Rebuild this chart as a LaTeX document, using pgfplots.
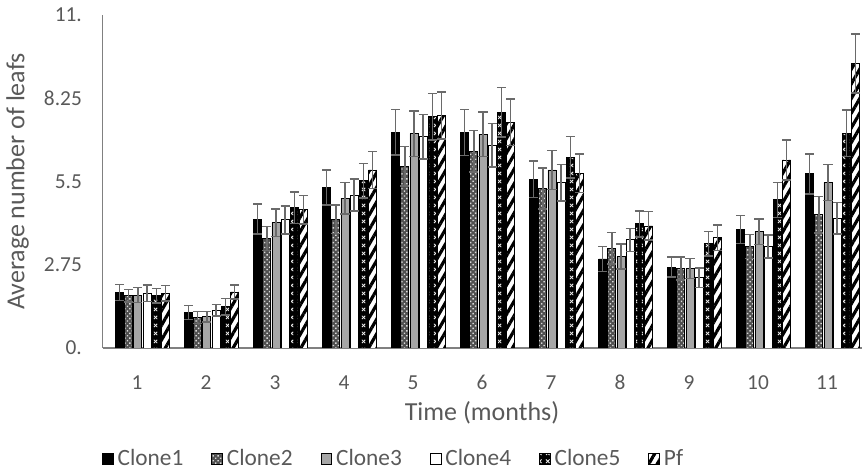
\documentclass[border=0pt]{standalone}
\usepackage{fontspec}
\setmainfont{Carlito}
\usepackage{pgfplots}
\pgfplotsset{compat=1.18}
\usepackage{pgfplotstable}
\usetikzlibrary{patterns,patterns.meta}

\definecolor{txtgray}{HTML}{595959}
\definecolor{axgray}{HTML}{808080}
\definecolor{errgray}{HTML}{6A6A6A}
\definecolor{midgray}{HTML}{A6A6A6}
\definecolor{dotgray}{HTML}{505050}

% white crosses for Clone5
\tikzdeclarepattern{
  name=xmarks, type=uncolored,
  bounding box={(0pt,0pt) and (6pt,6pt)},
  tile size={(6pt,6pt)},
  code={\draw[line width=0.7pt] (1.6pt,1.6pt)--(4.4pt,4.4pt) (1.6pt,4.4pt)--(4.4pt,1.6pt);}
}

% mean leaf count (y) and error (e) per month
\pgfplotstableread{
x y e
1 1.83 0.26
2 1.17 0.23
3 4.26 0.50
4 5.30 0.58
5 7.12 0.75
6 7.12 0.76
7 5.57 0.60
8 2.94 0.42
9 2.67 0.33
10 3.92 0.46
11 5.75 0.66
}\cloneA
\pgfplotstableread{
x y e
1 1.73 0.21
2 1.01 0.20
3 3.62 0.40
4 4.25 0.47
5 6.00 0.65
6 6.50 0.68
7 5.27 0.68
8 3.30 0.52
9 2.63 0.38
10 3.35 0.40
11 4.40 0.60
}\cloneB
\pgfplotstableread{
x y e
1 1.75 0.24
2 1.03 0.17
3 4.14 0.45
4 4.95 0.52
5 7.08 0.75
6 7.06 0.74
7 5.88 0.64
8 3.02 0.41
9 2.63 0.33
10 3.84 0.42
11 5.47 0.60
}\cloneC
\pgfplotstableread{
x y e
1 1.81 0.27
2 1.25 0.19
3 4.23 0.46
4 5.05 0.53
5 6.98 0.74
6 6.70 0.72
7 5.46 0.60
8 3.57 0.38
9 2.32 0.33
10 3.35 0.38
11 4.28 0.52
}\cloneD
\pgfplotstableread{
x y e
1 1.72 0.24
2 1.36 0.27
3 4.64 0.52
4 5.53 0.57
5 7.64 0.77
6 7.79 0.82
7 6.30 0.68
8 4.10 0.43
9 3.44 0.40
10 4.89 0.58
11 7.09 0.77
}\cloneE
\pgfplotstableread{
x y e
1 1.81 0.25
2 1.85 0.23
3 4.56 0.47
4 5.88 0.61
5 7.68 0.78
6 7.46 0.77
7 5.77 0.64
8 4.03 0.47
9 3.64 0.42
10 6.21 0.66
11 9.40 0.97
}\pf

\begin{document}
\begin{tikzpicture}
\useasboundingbox (-76.9pt,-93.75pt) rectangle (571.1pt,261pt);
\begin{axis}[
  at={(0pt,0pt)}, anchor=south west,
  scale only axis, width=569.25pt, height=249.75pt,
  xmin=0.5, xmax=11.5, ymin=0, ymax=11,
  axis x line*=bottom, axis y line*=left,
  axis line style={axgray, line width=1.1pt, -},
  xtick={1,...,11},
  ytick={0,2.75,5.5,8.25,11},
  yticklabels={0.,2.75,5.5,8.25,11.},
  /pgf/number format/assume math mode=true,
  major tick length=0pt,
  tick label style={font=\fontsize{16}{18}\selectfont, text=txtgray},
  xticklabel style={yshift=-17pt},
  yticklabel style={xshift=-12pt},
  xlabel={Time (months)},
  ylabel={Average number of leafs},
  label style={font=\fontsize{19.5}{22}\selectfont, text=txtgray},
  xlabel style={at={(axis description cs:0.5,-0.195)}, anchor=center},
  ylabel style={at={(axis description cs:-0.112,0.5)}, anchor=center},
  ybar, bar width=6pt,
  every axis plot/.append style={draw=black, line width=0.7pt},
  error bars/y dir=both, error bars/y explicit,
  error bars/error bar style={errgray, line width=1.1pt},
  error bars/error mark options={rotate=90, mark size=3.4pt, errgray, line width=1.1pt},
  area legend,
  legend image code/.code={\draw[#1, line width=0.6pt] (0pt,-4pt) rectangle (8pt,4pt);},
  legend style={at={(axis description cs:0.384,-0.333)}, anchor=center, draw=none,
    fill=none, legend columns=6, font=\fontsize{17.5}{20}\selectfont, text=txtgray,
    /tikz/every even column/.append style={column sep=19pt},
    /tikz/every odd column/.append style={column sep=1pt}},
]
\addplot[bar shift=-13.1pt, fill=black] table[x=x, y=y, y error=e]{\cloneA};
\addplot[bar shift=-6.2pt, fill=dotgray,
  postaction={pattern={Dots[radius=0.75pt, distance=2.6pt, angle=45]}, pattern color=white!70!gray}]
  table[x=x, y=y, y error=e]{\cloneB};
\addplot[bar shift=0.7pt, fill=midgray] table[x=x, y=y, y error=e]{\cloneC};
\addplot[bar shift=7.6pt, fill=white] table[x=x, y=y, y error=e]{\cloneD};
\addplot[bar shift=14.5pt, fill=black,
  postaction={pattern=xmarks, pattern color=white!85!gray}]
  table[x=x, y=y, y error=e]{\cloneE};
\addplot[bar shift=21.4pt, fill=white,
  postaction={pattern={Lines[angle=60, distance=5.5pt, line width=2.4pt]}, pattern color=black}]
  table[x=x, y=y, y error=e]{\pf};
\legend{Clone1, Clone2, Clone3, Clone4, Clone5, Pf}
\end{axis}
\end{tikzpicture}
\end{document}
